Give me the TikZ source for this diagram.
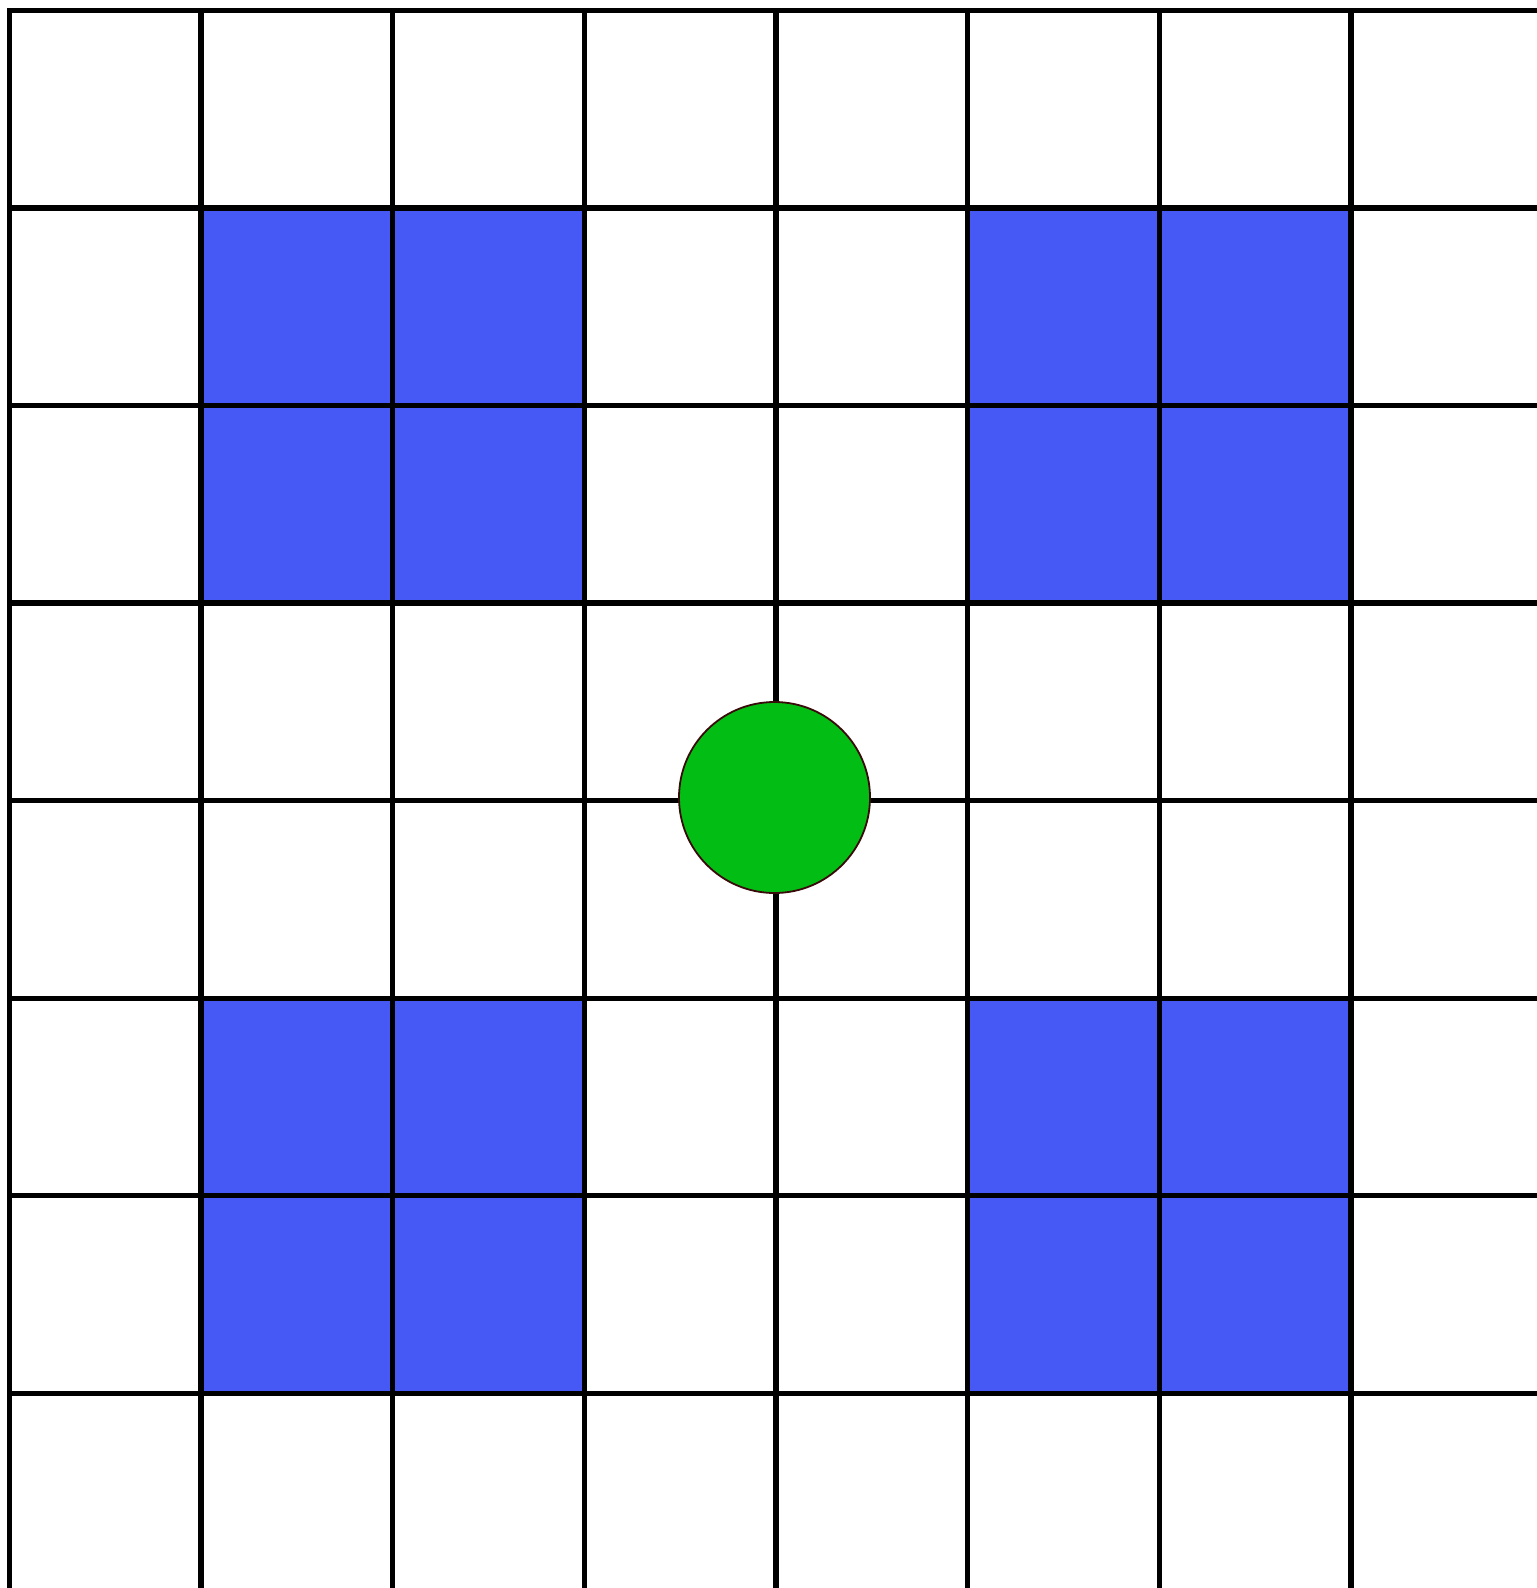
\documentclass[tikz,border=0pt]{standalone}
\definecolor{cellblue}{HTML}{4759F5}
\definecolor{celledge}{HTML}{B0642A}
\definecolor{dotgreen}{HTML}{02BE14}
\definecolor{dotedge}{HTML}{3A0A0A}
\tikzset{
  bluecell/.style={fill=cellblue,draw=celledge,line width=1.2pt},
  gridline/.style={draw=black,line width=5.3pt,line cap=rect},
  marker/.style={circle,fill=dotgreen,draw=dotedge,line width=1.8pt,minimum size=191pt,inner sep=0pt}
}
\begin{document}
\begin{tikzpicture}[x=1pt,y=-1pt]
\useasboundingbox (0,0) rectangle (1537,1588);
\fill[white] (0,0) rectangle (1537,1588);
% blue cells
\foreach \c in {1,2,5,6}{
  \foreach \r in {1,2,5,6}{
    \path[bluecell] ({9.5+\c*191.64},{10.3+\r*197.57}) rectangle ({9.5+(\c+1)*191.64},{10.3+(\r+1)*197.57});
  }
}
% grid
\foreach \c in {0,...,7}{
  \draw[gridline] ({9.5+\c*191.64},10.3) -- ({9.5+\c*191.64},1600);
}
\foreach \r in {0,...,7}{
  \draw[gridline] (9.5,{10.3+\r*197.57}) -- (1550,{10.3+\r*197.57});
}
% green marker
\node[marker] (dot) at (774.5,797.5) {};
\end{tikzpicture}
\end{document}
